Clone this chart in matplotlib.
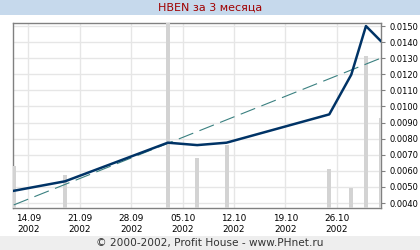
import datetime as dt
import matplotlib
matplotlib.use("Agg")
import matplotlib.pyplot as plt
import matplotlib.dates as mdates
from matplotlib.patches import Rectangle
from matplotlib.ticker import MultipleLocator, FormatStrFormatter

# trade days, close price and volume
trade_dates = ["2002-09-12", "2002-09-19", "2002-10-03", "2002-10-07", "2002-10-11",
               "2002-10-25", "2002-10-28", "2002-10-30", "2002-11-01"]
prices = [0.00476, 0.00535, 0.00775, 0.00760, 0.00775, 0.00951, 0.01198, 0.01500, 0.01408]
volumes = [42, 33, 200, 50, 63, 39, 20, 152, 90]

# linear trend, start and end values
trend_dates = ["2002-09-12", "2002-11-01"]
trend_values = [0.00388, 0.01300]

tick_dates = ["2002-09-14", "2002-09-21", "2002-09-28", "2002-10-05",
              "2002-10-12", "2002-10-19", "2002-10-26"]

title = "HBEN за 3 месяца"
footer = "© 2000-2002, Profit House - www.PHnet.ru"

def to_num(days):
    return [mdates.date2num(dt.datetime.strptime(d, "%Y-%m-%d")) for d in days]

x = to_num(trade_dates)
xt = to_num(trend_dates)
ticks = to_num(tick_dates)

small = ["Liberation Sans Narrow", "DejaVu Sans"]

fig = plt.figure(figsize=(4.2, 2.5), dpi=100)
fig.patch.set_facecolor("white")

# title and footer bands
fig.patches.append(Rectangle((0, 1 - 15 / 250), 1, 15 / 250, transform=fig.transFigure,
                             facecolor="#c6d9ec", edgecolor="none", zorder=0))
fig.patches.append(Rectangle((0, 0), 1, 14 / 250, transform=fig.transFigure,
                             facecolor="#eeeeee", edgecolor="none", zorder=0))
fig.text(0.5, 1 - 8 / 250, title, ha="center", va="center", color="#a00000", fontsize=8)
fig.text(0.5, 7 / 250, footer, ha="center", va="center", color="#333333", fontsize=7.6)

rect = [13 / 420, 42 / 250, 368 / 420, 185 / 250]
ax = fig.add_axes(rect)
ax.set_facecolor("white")

# volume bars
ax_v = ax.twinx()
ax_v.set_zorder(ax.get_zorder() + 1)
ax_v.patch.set_visible(False)
ax_v.bar(x, volumes, width=0.55, color="#d3d3d3")
ax_v.set_ylim(0, 185)
ax_v.axis("off")

ax.set_xlim(x[0] - 0.1, x[-1] + 0.05)
ax.set_ylim(0.00369, 0.01519)
ax.yaxis.set_major_locator(MultipleLocator(0.001))
ax.yaxis.set_major_formatter(FormatStrFormatter("%.4f"))
ax.yaxis.tick_right()
ax.set_xticks(ticks)
ax.set_xticklabels([dt.datetime.strptime(d, "%Y-%m-%d").strftime("%d.%m\n%Y") for d in tick_dates])
ax.grid(True, color="#e6e6e6", linewidth=1.0)
ax.tick_params(axis="x", length=0, pad=4, labelsize=6.4)
ax.tick_params(axis="y", length=3, width=0.8, color="#808080", pad=3, labelsize=6.0)
for lab in ax.get_xticklabels() + ax.get_yticklabels():
    lab.set_family(small)
    lab.set_linespacing(1.3)
for s in ax.spines.values():
    s.set_color("#808080")
    s.set_linewidth(1.0)

# price and trend on top
ax_p = fig.add_axes(rect, sharex=ax, sharey=ax)
ax_p.set_zorder(ax_v.get_zorder() + 1)
ax_p.patch.set_visible(False)
ax_p.axis("off")
ax_p.plot(xt, trend_values, color="#3a8080", linewidth=0.8, dashes=(14, 6))
ax_p.plot(x, prices, color="#003366", linewidth=1.8, solid_joinstyle="round")

fig.savefig("out.png", dpi=100)
